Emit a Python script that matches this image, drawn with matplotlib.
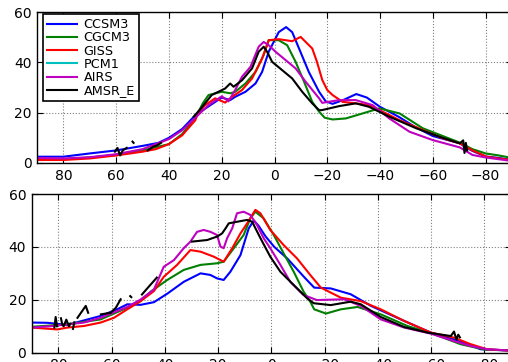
import matplotlib
matplotlib.use('Agg')
import matplotlib.pyplot as plt
import numpy as np

nan = np.nan

#%% Legend / series names and colours
names = ['CCSM3', 'CGCM3', 'GISS', 'PCM1', 'AIRS', 'AMSR_E']
colors = ['#0000ff', '#008000', '#ff0000', '#00bfbf', '#bf00bf', '#000000']

xticks = [80, 60, 40, 20, 0, -20, -40, -60, -80]
yticks = [0, 20, 40, 60]

#%% Top panel data (latitude, value)
top_ccsm3_lat = [90, 80, 70, 60, 50, 44, 40, 35, 30, 25, 20, 16.8, 14.9, 11, 7.2, 4.7, 2.2, -1.6, -4.4, -6.7,
                 -9.3, -13, -16.9, -19.4, -22, -26, -31, -35, -40, -47, -53, -60, -70, -75, -80, -85, -90]
top_ccsm3 = [2.5, 2.5, 3.8, 5, 6.8, 8, 10, 13.5, 19, 22.5, 26, 25, 26.3, 28.3, 31.6, 36.2, 44.2, 52, 54, 52,
             45.5, 36.2, 28.3, 24.5, 23.5, 25, 27.4, 26, 22.3, 18.4, 14.5, 10.7, 7.9, 4.8, 2.6, 2, 1.2]

top_cgcm3_lat = [90, 80, 70, 60, 50, 40, 35, 30, 27, 25, 20, 16.8, 14.9, 11, 7.2, 4.1, 2.2, -1.6, -4.8, -8,
                 -11.2, -14.3, -16.9, -19, -22, -27, -33.4, -39.7, -47.4, -56.2, -63.8, -70.2, -75, -80, -85, -90]
top_cgcm3 = [1.5, 1.5, 2.2, 3.2, 5, 7.5, 11.5, 18, 24, 27, 28.3, 27.7, 28.3, 31.6, 36.2, 42.9, 48.8, 48.8, 46.8, 40.2,
             32.3, 24.3, 20.4, 18, 17.3, 17.7, 19.7, 21.7, 19.7, 13.8, 10.7, 8.1, 5.5, 3.8, 3, 2]

top_giss_lat = [90, 80, 70, 60, 50, 45, 40, 35, 30, 28.8, 26.3, 22.5, 18.7, 16.1, 12.3, 8.5, 4.7, 2.2, -1.6, -6.7,
                -9.9, -14.3, -16, -18.1, -20, -22, -25.8, -30.8, -35.9, -41, -47.4, -56.2, -63.8, -70.2, -75,
                -80.4, -85, -90]
top_giss = [1.2, 1.2, 1.8, 3, 4.5, 5.5, 7.5, 11, 17, 20.4, 23, 25.7, 24, 26.3, 29, 33.6, 41.5, 48.8, 49.2, 48.4,
            50.1, 45.5, 40.5, 33, 29, 27, 24.3, 23.7, 23, 20.4, 17, 13.1, 9.8, 7.8, 5, 2.5, 1.8, 1.2]

top_pcm1_lat = []
top_pcm1 = []

top_airs_lat = [90, 80, 70, 60, 50, 40, 35, 30, 25, 20, 17.4, 14.9, 12.3, 9.1, 6, 4.1, 2.2, -0.4, -4.2, -8,
                -11.8, -16.9, -18.1, -24.5, -30.8, -37.2, -43.5, -51.2, -60, -70.2, -75, -80, -85, -90]
top_airs = [2, 1.8, 2.3, 3.5, 5.5, 9.5, 13, 18, 23, 26.5, 24.5, 29, 34.3, 38.2, 46.2, 48.1, 46.8, 44.2, 40.9, 37.6,
            32.3, 25.7, 23.9, 25, 25, 23, 17.7, 12.4, 9.1, 6.2, 3.2, 2.2, 1.5, 0.8]

top_amsr_lat = [60.5, 59.5, 58.5, 57.5, 56, nan, 53.8, 53.4, nan, 48, 46, 44.5, 43, nan,
                30.6, 27.4, 23.8, 18.7, 16.8, 15.5, 12.3, 8.5, 6, 4.1, 2.8, 0.9, -2.9, -6.7, -10.5, -14.3,
                -16.9, -17.9, -24.5, -30.8, -35.9, -43.5, -53.7, -62.6, -70.2, -71.5, -72, -72.5, -73]
top_amsr = [4.5, 6, 3, 5, 6, nan, 8.5, 8, nan, 5, 6.5, 7, 8, nan,
            18.4, 22.3, 27, 29.6, 31.6, 30.3, 32.9, 37.6, 44.2, 46.2, 44.2, 40.2, 36.9, 33.6, 28.3, 23.7,
            21, 21, 22.6, 23.7, 22.3, 18.4, 13.8, 10.4, 7.8, 9, 4, 8, 5]

#%% Bottom panel data (latitude, value)
bot_ccsm3_lat = [90, 84, 76.6, 70.4, 64.1, 57.9, 54.1, 49.1, 44.1, 39.1, 32.9, 26.6, 22.9, 20.4, 17.9, 15.4,
                 11.6, 8.5, 6.6, 4.8, 2.2, -1.1, -6.1, -12.4, -16.1, -22.3, -29.8, -37.4, -49.9, -59.9, -68.6,
                 -78.6, -90]
bot_ccsm3 = [11.4, 11.3, 10.5, 12.2, 13.9, 16.4, 18.3, 18.1, 19.1, 22.3, 26.8, 30, 29.4, 28.1, 27.5, 30.6,
             36.9, 47, 50, 48, 44, 40, 35.5, 28.5, 24.6, 24.3, 22.1, 17.7, 12, 7.6, 5.1, 1.3, 0.8]

bot_cgcm3_lat = [90, 76.6, 64.1, 54.1, 49.1, 45.4, 39.1, 32.9, 26.6, 20.4, 17.9, 14.1, 10.4, 7.9, 6, 2.9, -0.9,
                 -4.6, -8.4, -12.1, -14.6, -16.1, -20.5, -26.1, -32.4, -41.1, -51.1, -61.1, -71.1, -80, -90]
bot_cgcm3 = [9.8, 10.7, 12.6, 17, 19.5, 23, 27.5, 31.3, 33.2, 33.8, 34.4, 39.5, 44.5, 50.8, 53.3, 50.8, 44.5,
             37.6, 30.6, 23.1, 19.3, 16.4, 14.8, 16.4, 17.3, 14.5, 10.1, 7, 3.2, 1.2, 0.8]

bot_giss_lat = [90, 80.4, 76.6, 70.4, 64.1, 59.1, 54.1, 49.1, 44.1, 40.4, 35.4, 30.4, 26.6, 21.6, 17.9, 14.7,
                11.6, 9.1, 6, 4.1, 0.4, -4.6, -9.6, -14.6, -18.6, -26.1, -33.6, -41.1, -49.9, -59.9, -68.6,
                -74.9, -81, -90]
bot_giss = [9.5, 8.8, 9.5, 10.1, 11.4, 13.2, 16.4, 19.5, 23.3, 28.7, 33.2, 38.8, 38.2, 36.3, 34.4, 39.5,
            45.1, 48.9, 54, 52.7, 46.4, 40.7, 35.7, 29.4, 24.6, 20.8, 19.5, 16.4, 12, 7.6, 5.7, 3.2, 1.3, 0.8]

bot_pcm1_lat = []
bot_pcm1 = []

bot_airs_lat = [90, 83, 70.4, 64.1, 54.1, 49.1, 44.1, 40.4, 36.6, 32.9, 30.4, 27.9, 25.4, 22.9, 20.4, 19.1,
                17.9, 16.6, 14.7, 12.9, 10.4, 7.9, 5.4, 2.9, 0.4, -3.4, -7.1, -12.1, -17.1, -27.4, -33.6, -41.1,
                -49.9, -59.9, -68.6, -74.9, -81, -90]
bot_airs = [9.5, 10, 11.4, 13.2, 17.3, 20.1, 23.9, 32.5, 35, 39.5, 42, 45.7, 46.4, 45.7, 44.5, 40.1,
            39.5, 43.3, 47, 52.7, 53.3, 52.1, 48.3, 43.3, 39.5, 33.2, 26.8, 21.8, 19.9, 20.2, 17.7, 12.6,
            9.5, 7.2, 4.4, 2.5, 1.3, 0.8]

bot_amsr_lat = [81.5, 81, 80.5, nan, 79, 78.5, 78, 77, 76, 75.5, nan, 74.5, 74, nan,
                72.8, 69.7, 68.8, nan, 64, 60.3, 58.4, 56.6, nan, 53, 52.6, nan, 48.6, 46, 43, nan,
                29.8, 24.1, 20.4, 18.5, 17.2, 16, 12.9, 9.1, 7.2, 4.1, 0.4, -3.4, -8.4, -13.4, -15.9,
                -22.3, -29.8, -33.6, -41.1, -49.9, -58.7, -67.4, -68.6, -69.5, -70.2, -70.8]
bot_amsr = [9.5, 13.5, 10, nan, 13, 10.5, 10, 12.5, 10, 11, nan, 9, 11.5, nan,
            13.2, 17.7, 15.1, nan, 14.5, 15.1, 17, 20.2, nan, 21.4, 21, nan, 22, 25, 28.4, nan,
            42, 42.6, 43.9, 45.1, 47, 48.9, 49.5, 50.2, 49.5, 43.3, 36.3, 30.6, 25.6, 20.6, 18.7,
            18, 19.3, 18.3, 13.5, 9.7, 7.6, 6.3, 8, 5, 6.8, 5.8]

top_series = [(top_ccsm3_lat, top_ccsm3), (top_cgcm3_lat, top_cgcm3), (top_giss_lat, top_giss),
              (top_pcm1_lat, top_pcm1), (top_airs_lat, top_airs), (top_amsr_lat, top_amsr)]
bot_series = [(bot_ccsm3_lat, bot_ccsm3), (bot_cgcm3_lat, bot_cgcm3), (bot_giss_lat, bot_giss),
              (bot_pcm1_lat, bot_pcm1), (bot_airs_lat, bot_airs), (bot_amsr_lat, bot_amsr)]


#%% Plot
fig = plt.figure(figsize=(5.08, 3.62), dpi=100)
ax1 = fig.add_axes([37/508, 1 - 163/362, 475/508, 151/362])
ax2 = fig.add_axes([31.7/508, 1 - 352.7/362, 479.3/508, 158.7/362])


def style_axes(ax):
    ax.set_xlim(90, -90)
    ax.set_ylim(0, 60)
    ax.set_xticks(xticks)
    ax.set_yticks(yticks)
    ax.tick_params(direction='in', top=True, right=True, labelsize=10, length=4, width=0.8, pad=4)
    ax.grid(True, linestyle=':', color='#808080', linewidth=0.8)
    for s in ax.spines.values():
        s.set_linewidth(1.0)


for ax, series in [(ax1, top_series), (ax2, bot_series)]:
    for (lat, val), name, c in zip(series, names, colors):
        ax.plot(lat, val, color=c, linewidth=1.5, label=name)
    style_axes(ax)

# matlab style legend box in the top left corner
leg = ax1.legend(loc='upper left', bbox_to_anchor=(0.012, 0.985), borderaxespad=0, fontsize=9.2,
                 frameon=True, fancybox=False, edgecolor='black', framealpha=1, handlelength=2.4,
                 labelspacing=0.02, borderpad=0.3, handletextpad=0.5)
leg.get_frame().set_linewidth(1.2)

plt.savefig('out.png', dpi=100)
